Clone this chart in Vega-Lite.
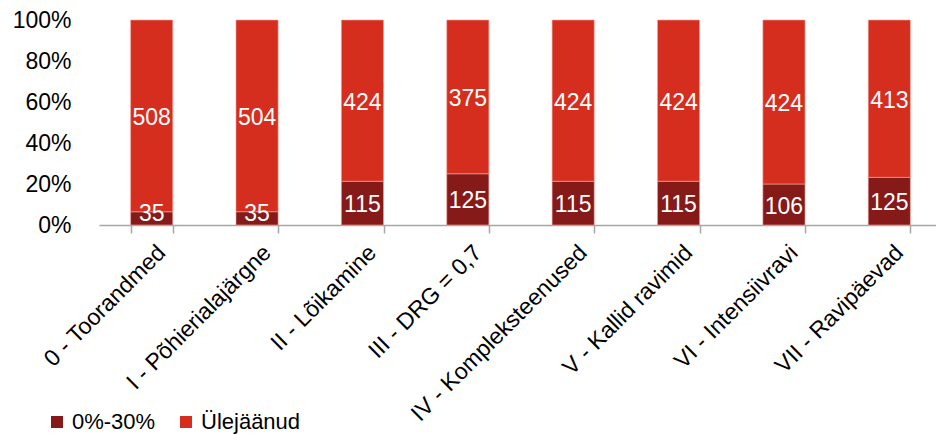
{
  "$schema": "https://vega.github.io/schema/vega-lite/v6.json",
  "autosize": "none",
  "width": 843,
  "height": 205,
  "padding": {"left": 99, "top": 20, "right": 0, "bottom": 210},
  "background": "white",
  "config": {
    "font": "Liberation Sans",
    "view": {"stroke": null}
  },
  "data": {
    "values": [
      {"cat": "0 - Toorandmed", "grp": "0%-30%", "o": 1, "v": 35},
      {"cat": "0 - Toorandmed", "grp": "Ülejäänud", "o": 2, "v": 508},
      {"cat": "I - Põhierialajärgne", "grp": "0%-30%", "o": 1, "v": 35},
      {"cat": "I - Põhierialajärgne", "grp": "Ülejäänud", "o": 2, "v": 504},
      {"cat": "II - Lõikamine", "grp": "0%-30%", "o": 1, "v": 115},
      {"cat": "II - Lõikamine", "grp": "Ülejäänud", "o": 2, "v": 424},
      {"cat": "III - DRG = 0,7", "grp": "0%-30%", "o": 1, "v": 125},
      {"cat": "III - DRG = 0,7", "grp": "Ülejäänud", "o": 2, "v": 375},
      {"cat": "IV - Kompleksteenused", "grp": "0%-30%", "o": 1, "v": 115},
      {"cat": "IV - Kompleksteenused", "grp": "Ülejäänud", "o": 2, "v": 424},
      {"cat": "V - Kallid ravimid", "grp": "0%-30%", "o": 1, "v": 115},
      {"cat": "V - Kallid ravimid", "grp": "Ülejäänud", "o": 2, "v": 424},
      {"cat": "VI - Intensiivravi", "grp": "0%-30%", "o": 1, "v": 106},
      {"cat": "VI - Intensiivravi", "grp": "Ülejäänud", "o": 2, "v": 424},
      {"cat": "VII - Ravipäevad", "grp": "0%-30%", "o": 1, "v": 125},
      {"cat": "VII - Ravipäevad", "grp": "Ülejäänud", "o": 2, "v": 413}
    ]
  },
  "encoding": {
    "x": {
      "field": "cat", "type": "nominal", "sort": null, "title": null,
      "scale": {"paddingInner": 0.6, "paddingOuter": 0.3},
      "axis": {
        "labelAngle": -45, "labelAlign": "right", "labelBaseline": "top",
        "labelFontSize": 23, "labelColor": "#000000", "labelPadding": 8,
        "labelOffset": 2,
        "domainColor": "#A6A6A6", "domainWidth": 1.5,
        "tickColor": "#A6A6A6", "tickWidth": 1.5, "tickSize": 8,
        "tickBand": "extent", "labelOverlap": false, "labelLimit": 400
      }
    }
  },
  "layer": [
    {
      "mark": {"type": "bar", "stroke": "#F2A8A0", "strokeWidth": 0.6},
      "encoding": {
        "y": {
          "field": "v", "type": "quantitative", "stack": "normalize", "title": null,
          "scale": {"domain": [0, 1]},
          "axis": {
            "format": ".0%", "values": [0, 0.2, 0.4, 0.6, 0.8, 1],
            "domain": false, "ticks": false, "grid": false,
            "labelFontSize": 23, "labelColor": "#000000", "labelPadding": 28
          }
        },
        "color": {
          "field": "grp", "type": "nominal", "title": null,
          "scale": {"domain": ["0%-30%", "Ülejäänud"], "range": ["#851A19", "#D62E1E"]},
          "legend": {
            "orient": "none", "legendX": -53, "legendY": 391, "direction": "horizontal",
            "symbolType": "square", "symbolSize": 144, "symbolStrokeWidth": 0,
            "labelFontSize": 22, "labelColor": "#000000", "columnPadding": 19,
            "labelOffset": 4
          }
        },
        "order": {"field": "o"}
      }
    },
    {
      "transform": [
        {"joinaggregate": [{"op": "sum", "field": "v", "as": "tot"}], "groupby": ["cat"]},
        {"window": [{"op": "sum", "field": "v", "as": "cum"}], "groupby": ["cat"], "sort": [{"field": "o"}], "frame": [null, 0]},
        {"calculate": "datum.o == 1 ? max((datum.cum - datum.v/2)/datum.tot, 0.065) : (datum.cum - datum.v/2)/datum.tot", "as": "mid"}
      ],
      "mark": {"type": "text", "color": "white", "fontSize": 23, "baseline": "middle", "dy": 2},
      "encoding": {
        "y": {"field": "mid", "type": "quantitative"},
        "text": {"field": "v", "type": "quantitative"}
      }
    }
  ]
}
